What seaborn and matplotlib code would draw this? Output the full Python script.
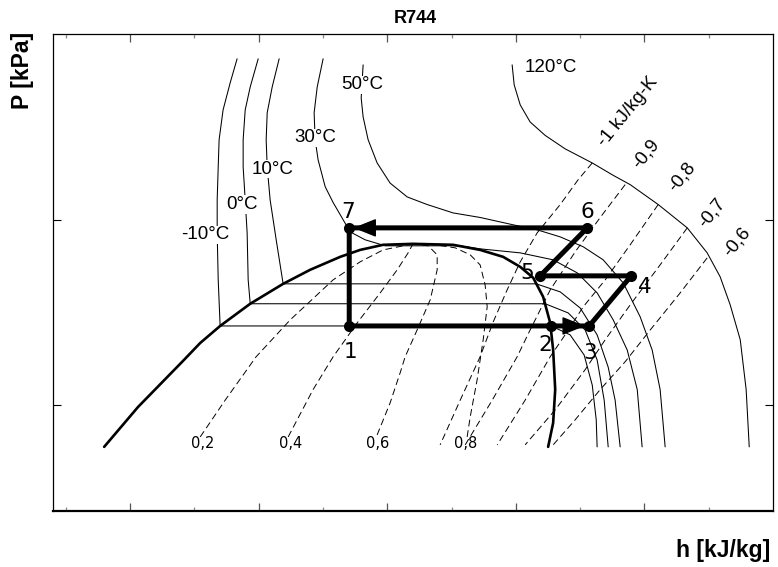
import matplotlib
matplotlib.use("Agg")
import matplotlib.pyplot as plt
import seaborn as sns
from matplotlib.ticker import FixedLocator, NullLocator, NullFormatter

# ---------------------------------------------------------------
# R744 (CO2) pressure-enthalpy data: h in kJ/kg, P in kPa
# ---------------------------------------------------------------

# saturation dome (liquid side -> critical point -> vapour side)
dome_h = [79.8, 106.2, 140.5, 154.5, 170.0, 193.4, 219.0, 240.0, 263.4, 278.9,
          296.8, 320.0, 351.2, 372.2, 390.1, 403.4, 413.5, 421.2, 426.7, 429.0,
          430.6, 429.0, 425.1]
dome_p = [593, 975, 1710, 2160, 2670, 3520, 4510, 5370, 6310, 6880,
          7330, 7420, 7330, 6880, 6310, 5570, 4860, 3840, 2775, 1980,
          1210, 800, 593]

# isotherms
t_m10_h = [183.2, 177.8, 172.3, 169.2, 168.5, 167.7, 167.7, 168.5, 170.0,
           427.5, 442.2, 453.1, 459.4, 462.5, 463.2]
t_m10_p = [74200, 55000, 39300, 27100, 19300, 12800, 8510, 4740, 2670,
           2670, 2390, 1860, 1280, 830, 593]

t_0_h = [199.6, 193.4, 189.5, 187.9, 187.9, 189.5, 191.0, 191.8, 193.4,
         422.8, 440.7, 453.9, 463.2, 468.7, 471.8]
t_0_p = [74200, 52300, 39300, 27100, 19300, 12800, 8510, 4740, 3520,
         3520, 3140, 2540, 1750, 1060, 593]

t_10_h = [215.9, 210.5, 206.6, 205.8, 206.6, 208.9, 213.6, 219.0,
          415.8, 434.5, 450.0, 463.2, 471.8, 477.2, 481.1]
t_10_p = [74200, 52300, 37900, 27100, 19300, 12800, 7800, 4510,
          4510, 4080, 3340, 2390, 1600, 1060, 593]

t_30_h = [250.1, 245.5, 243.1, 243.9, 246.2, 251.7, 257.9, 265.7, 271.1, 282.8,
          298.4, 356.7, 372.2, 403.4, 429.0, 447.7, 463.2, 475.7, 486.6, 494.4,
          498.2]
t_30_p = [74200, 52300, 37900, 27100, 21100, 15100, 12400, 10000, 8610, 7800,
          7240, 7240, 6970, 6630, 6080, 5170, 4030, 2880, 1980, 1210,
          593]

t_50_h = [281.2, 279.7, 281.2, 285.1, 292.1, 302.2, 315.5, 331.0, 351.2, 372.2,
          397.9, 416.6, 434.5, 452.4, 467.9, 483.5, 496.7, 506.0, 512.2, 516.1]
t_50_p = [68800, 45600, 36000, 27100, 20300, 15800, 13300, 12100, 10900, 10300,
          9400, 8830, 8090, 7150, 6080, 4560, 2990, 1980, 1210, 593]

t_120_h = [397.1, 398.7, 403.4, 411.1, 422.8, 438.3, 459.4, 475.7, 488.9, 510.7,
           533.3, 548.8, 558.9, 566.7, 574.5, 579.1, 581.5]
t_120_p = [68800, 53600, 41800, 33800, 28600, 24200, 20300, 17400, 15500, 12100,
           9050, 6630, 4920, 3470, 2250, 1210, 593]

iso_labels = ["-10°C", "0°C", "10°C", "30°C", "50°C", "120°C"]
iso_label_h = [158.4, 187.1, 210.5, 243.9, 280.5, 427.5]
iso_label_p = [8300, 12100, 18800, 27700, 53600, 66300]

# constant-quality lines (bottom -> critical point)
x02_h = [154.5, 173.9, 198.0, 224.5, 257.9, 278.9, 296.8, 320.0]
x02_p = [671, 1060, 1820, 2880, 4740, 5930, 6880, 7420]
x04_h = [222.9, 242.3, 257.9, 276.6, 294.5, 307.7, 316.2, 320.0]
x04_p = [671, 1210, 1820, 2775, 4030, 5370, 6630, 7420]
x06_h = [292.1, 302.2, 310.0, 313.9, 323.2, 333.4, 338.8, 338.8, 331.8, 320.0]
x06_p = [688, 1025, 1490, 1820, 2540, 3700, 5370, 6470, 7240, 7420]
x08_h = [362.1, 364.5, 369.9, 374.6, 377.7, 376.1, 372.2, 364.5, 352.8, 337.2, 320.0]
x08_p = [671, 862, 1370, 2250, 3390, 4450, 5710, 6470, 7060, 7330, 7420]

quality_labels = ["0,2", "0,4", "0,6", "0,8"]
quality_label_h = [156.8, 224.5, 292.1, 360.6]
quality_label_p = [615, 615, 615, 615]

# constant-entropy lines (top on the 120 °C isotherm -> bottom)
s_100_h = [459.4, 448.5, 434.5, 416.6, 403.4, 393.2, 382.4, 372.2, 356.7, 341.1]
s_100_p = [20300, 16500, 12100, 8510, 5930, 4180, 2810, 1820, 1060, 608]
s_090_h = [485.0, 465.6, 446.1, 426.7, 411.1, 401.0, 381.6, 360.6]
s_090_p = [15500, 10300, 6710, 4180, 2540, 1820, 1060, 608]
s_080_h = [510.7, 488.9, 469.5, 452.4, 438.3, 426.7, 407.2, 385.5]
s_080_p = [12100, 7330, 4740, 3390, 2390, 1820, 1060, 608]
s_070_h = [533.3, 512.2, 488.9, 469.5, 453.9, 430.6, 407.2]
s_070_p = [9050, 5710, 3470, 2250, 1550, 940, 608]
s_060_h = [548.8, 527.8, 504.5, 485.0, 465.6, 446.1, 429.0]
s_060_p = [6230, 4030, 2540, 1710, 1210, 830, 608]

entropy_labels = ["-1 kJ/kg-K", "-0,9", "-0,8", "-0,7", "-0,6"]
entropy_label_h = [487.3, 501.4, 529.4, 552.7, 572.1]
entropy_label_p = [38400, 22800, 17100, 10900, 7600]

# refrigeration cycle state points 1..7
cycle_states = ["1", "2", "3", "4", "5", "6", "7"]
cycle_h = [270.4, 427.5, 457.0, 489.7, 418.9, 455.5, 270.4]
cycle_p = [2670, 2670, 2670, 4980, 4980, 9050, 9050]

# axis ranges and tick marks
h_range = (40, 600)
p_range = (267, 101000)
h_major = [100, 200, 300, 400, 500]
h_minor = [50, 150, 250, 350, 450, 550]
p_major = [1000, 10000]

# ---------------------------------------------------------------
sns.set_style("white")
plt.rcParams["font.family"] = ["Liberation Sans", "DejaVu Sans"]
plt.rcParams["text.color"] = "black"
plt.rcParams["axes.labelcolor"] = "black"

fig = plt.figure(figsize=(7.78, 5.67), dpi=100)
ax = fig.add_axes([0.0681, 0.0988, 0.9255, 0.8412])
ax.set_yscale("log")

thin = dict(color="black", linewidth=0.75, sort=False, estimator=None, ax=ax)
dash = dict(color="black", linewidth=0.7, sort=False, estimator=None, ax=ax,
            linestyle=(0, (7, 4)))

for hh, pp in [(t_m10_h, t_m10_p), (t_0_h, t_0_p), (t_10_h, t_10_p),
               (t_30_h, t_30_p), (t_50_h, t_50_p), (t_120_h, t_120_p)]:
    sns.lineplot(x=hh, y=pp, **thin)

for hh, pp in [(x02_h, x02_p), (x04_h, x04_p), (x06_h, x06_p), (x08_h, x08_p),
               (s_100_h, s_100_p), (s_090_h, s_090_p), (s_080_h, s_080_p),
               (s_070_h, s_070_p), (s_060_h, s_060_p)]:
    sns.lineplot(x=hh, y=pp, **dash)

sns.lineplot(x=dome_h, y=dome_p, color="black", linewidth=1.9, sort=False,
             estimator=None, ax=ax)

# cycle path 1-2-3-4-5-6-7-1
path_h = cycle_h + [cycle_h[0]]
path_p = cycle_p + [cycle_p[0]]
sns.lineplot(x=path_h, y=path_p, color="black", linewidth=3.6, sort=False,
             estimator=None, ax=ax, zorder=5, solid_joinstyle="miter")
sns.scatterplot(x=cycle_h, y=cycle_p, color="black", s=64, edgecolor="black",
                linewidth=0, ax=ax, zorder=6)

arrow_kw = dict(arrowstyle="-|>,head_length=0.4,head_width=0.16",
                mutation_scale=36, color="black", lw=1.0,
                shrinkA=0, shrinkB=3)
ax.annotate("", xy=(cycle_h[6], cycle_p[6]), xytext=(cycle_h[5], cycle_p[5]),
            arrowprops=arrow_kw, zorder=7)
ax.annotate("", xy=(cycle_h[2], cycle_p[2]), xytext=(cycle_h[1], cycle_p[1]),
            arrowprops=arrow_kw, zorder=7)

state_offsets = [(1, -26), (-6, -19), (1, -27), (14, -11), (-13, 3), (0, 16), (-1, 16)]
for lab, hh, pp, off in zip(cycle_states, cycle_h, cycle_p, state_offsets):
    ax.annotate(lab, (hh, pp), xytext=off, textcoords="offset pixels",
                ha="center", va="center", fontsize=15.5, color="black",
                family=["DejaVu Sans"], zorder=8)

for lab, hh, pp in zip(iso_labels, iso_label_h, iso_label_p):
    ax.text(hh, pp, lab, ha="center", va="center", fontsize=13.5, color="black",
            bbox=dict(facecolor="white", edgecolor="none", pad=0.6), zorder=3)

for lab, hh, pp in zip(quality_labels, quality_label_h, quality_label_p):
    ax.text(hh, pp, lab, ha="center", va="center", fontsize=10.5, color="black",
            family=["DejaVu Sans"], zorder=3)

for lab, hh, pp in zip(entropy_labels, entropy_label_h, entropy_label_p):
    ax.text(hh, pp, lab, ha="center", va="center", fontsize=13.5, color="black",
            rotation=51, rotation_mode="anchor", zorder=3)

# axes styling
ax.set_xlim(*h_range)
ax.set_ylim(*p_range)
ax.xaxis.set_major_locator(FixedLocator(h_major))
ax.xaxis.set_minor_locator(FixedLocator(h_minor))
ax.yaxis.set_major_locator(FixedLocator(p_major))
ax.yaxis.set_minor_locator(NullLocator())
ax.xaxis.set_major_formatter(NullFormatter())
ax.yaxis.set_major_formatter(NullFormatter())
ax.set_xlabel("")
ax.set_ylabel("")

ax.tick_params(axis="x", which="major", direction="in", length=5.5, width=0.9,
               color="#555555", top=True, bottom=True)
ax.tick_params(axis="x", which="minor", direction="in", length=3, width=0.9,
               color="#888888", top=True, bottom=True)
ax.tick_params(axis="y", which="major", direction="in", length=5.5, width=0.8,
               color="black", left=True, right=True)

for side in ["left", "top", "right"]:
    ax.spines[side].set_linewidth(0.9)
    ax.spines[side].set_color("black")
ax.spines["bottom"].set_linewidth(1.6)
ax.spines["bottom"].set_color("black")

fig.text(415 / 778, 1 - 18.5 / 567, "R744", ha="center", va="center",
         fontsize=13, fontweight="bold", color="black")
fig.text(22 / 778, 1 - 70 / 567, "P [kPa]", ha="center", va="center",
         rotation=90, fontsize=16.5, fontweight="bold", color="black")
fig.text(723 / 778, 1 - 551 / 567, "h [kJ/kg]", ha="center", va="center",
         fontsize=16.5, fontweight="bold", color="black")

fig.savefig("out.png", dpi=100)
